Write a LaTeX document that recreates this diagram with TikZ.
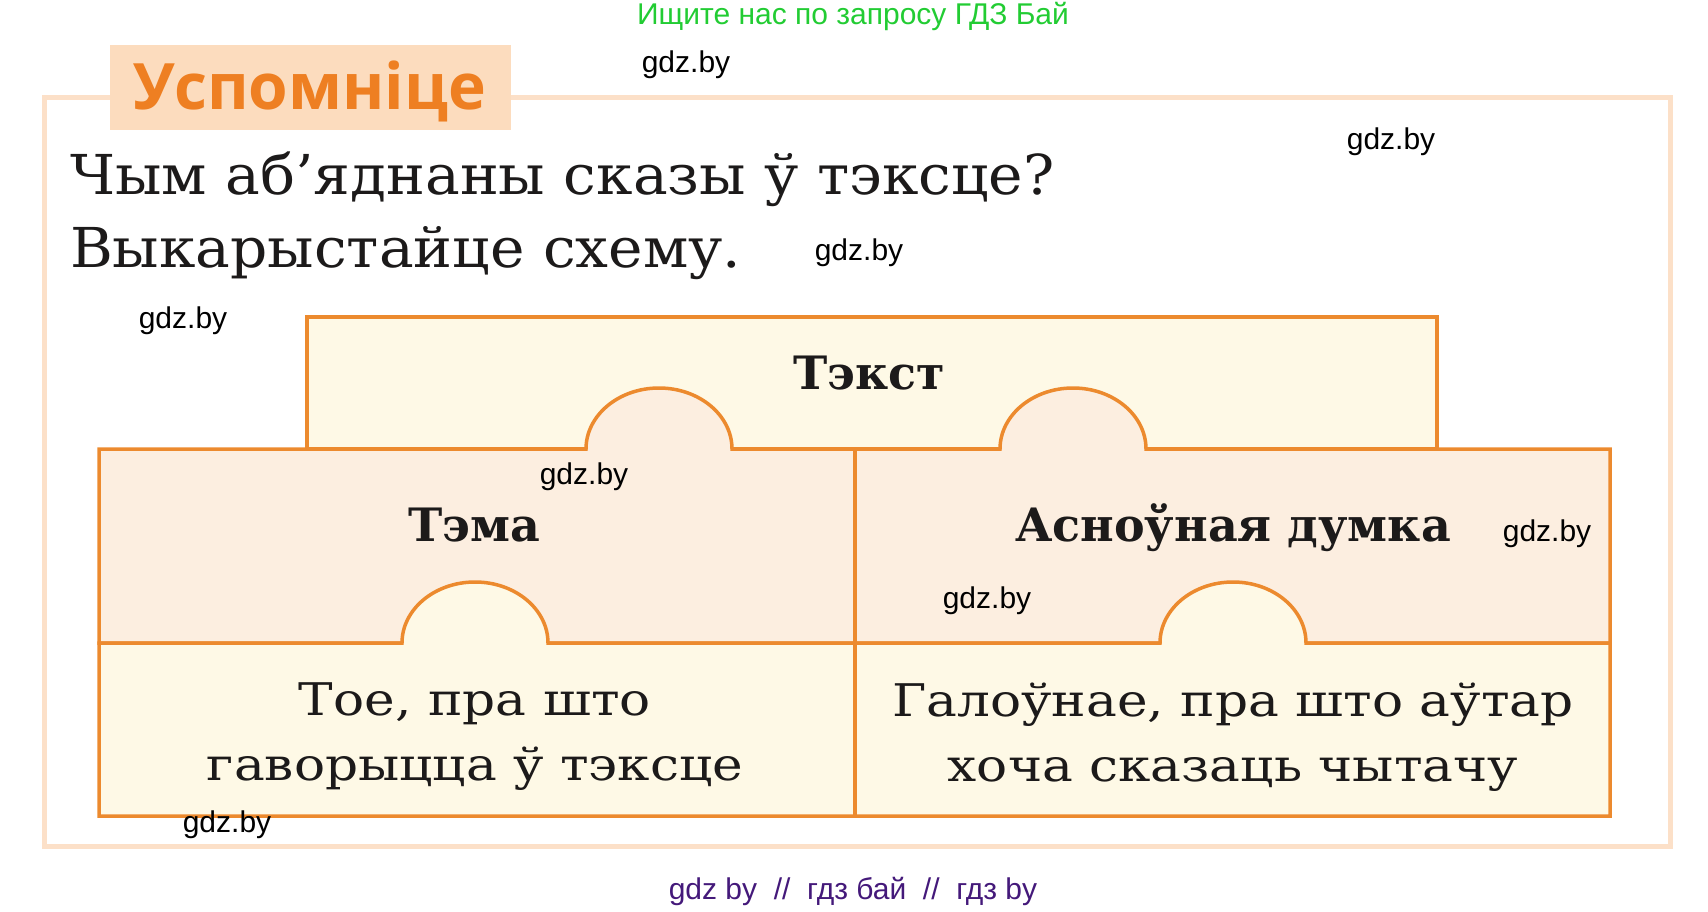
\documentclass[tikz,border=0pt]{standalone}
\usepackage{fontspec}
\setmainfont{DejaVu Serif}
\newfontfamily\wmfont{Liberation Sans}
\newfontfamily\headfont{Open Sans}
\definecolor{lineor}{HTML}{EC8A2E}
\definecolor{framepeach}{HTML}{FCE0C8}
\definecolor{titlepeach}{HTML}{FCDCBE}
\definecolor{titleor}{HTML}{EE7F22}
\definecolor{cream}{HTML}{FEF9E6}
\definecolor{peach}{HTML}{FCEEE0}
\definecolor{inkblack}{HTML}{1C1A1A}
\definecolor{wmgreen}{HTML}{22CC33}
\definecolor{wmpurple}{HTML}{44197A}
\def\gdznode{\node[font=\wmfont\fontsize{30}{36}\selectfont]}
\def\boxhead{\node[anchor=base,text=inkblack,font=\bfseries\fontsize{46}{54}\selectfont]}
\def\boxbody{\node[align=center,text=inkblack,font=\addfontfeature{FakeStretch=1.15}\fontsize{45}{65}\selectfont]}

\begin{document}
\begin{tikzpicture}[x=1pt,y=-1pt,line width=3.5pt]
\useasboundingbox (0,0) rectangle (1708,912);
\draw[framepeach,line width=5pt] (44,98) rectangle (1670,846);
\fill[titlepeach] (110,45) rectangle (511,130);
\node[anchor=base,text=titleor,font=\headfont\bfseries\fontsize{64}{72}\selectfont] (title) at (310,110) {Успомніце};
\node[anchor=base west,text=inkblack,font=\addfontfeature{FakeStretch=1.06}\fontsize{55}{66}\selectfont] (q1) at (65,195) {Чым аб’яднаны сказы ў тэксце?};
\node[anchor=base west,text=inkblack,font=\addfontfeature{FakeStretch=1.06}\fontsize{55}{66}\selectfont] (q2) at (65,267) {Выкарыстайце схему.};
\filldraw[fill=cream,draw=lineor] (307,317) rectangle (1437,449);
\filldraw[fill=peach,draw=lineor] (99,643) -- (99,449) -- (586,449)
  arc[start angle=180,end angle=360,x radius=73,y radius=61] -- (1000,449)
  arc[start angle=180,end angle=360,x radius=73,y radius=61] -- (1610,449) -- (1610,643) -- cycle;
\filldraw[fill=cream,draw=lineor] (99,816) -- (99,643) -- (402,643)
  arc[start angle=180,end angle=360,x radius=73,y radius=61] -- (1160,643)
  arc[start angle=180,end angle=360,x radius=73,y radius=61] -- (1610,643) -- (1610,816) -- cycle;
\draw[lineor] (855,449) -- (855,816);
\boxhead (tekst) at (869,389) {Тэкст};
\boxhead (tema) at (474,541) {Тэма};
\boxhead (dumka) at (1233,541) {Асноўная думка};
\boxbody (temadef) at (475,737) {Тое, пра што\\гаворыцца ў тэксце};
\boxbody (dumkadef) at (1233,737) {Галоўнае, пра што аўтар\\хоча сказаць чытачу};
\gdznode (wm1) at (686,65) {gdz.by};
\gdznode (wm2) at (1391,142) {gdz.by};
\gdznode (wm3) at (859,253) {gdz.by};
\gdznode (wm4) at (183,321) {gdz.by};
\gdznode (wm5) at (584,477) {gdz.by};
\gdznode (wm6) at (1547,534) {gdz.by};
\gdznode (wm7) at (987,601) {gdz.by};
\gdznode (wm8) at (227,825) {gdz.by};
\node[text=wmgreen,font=\wmfont\fontsize{30}{36}\selectfont] (search) at (853,16) {Ищите нас по запросу ГДЗ Бай};
\node[text=wmpurple,font=\wmfont\fontsize{30}{36}\selectfont] (footer) at (853,891) {gdz by\ \ //\ \ гдз бай\ \ //\ \ гдз by};
\end{tikzpicture}
\end{document}
